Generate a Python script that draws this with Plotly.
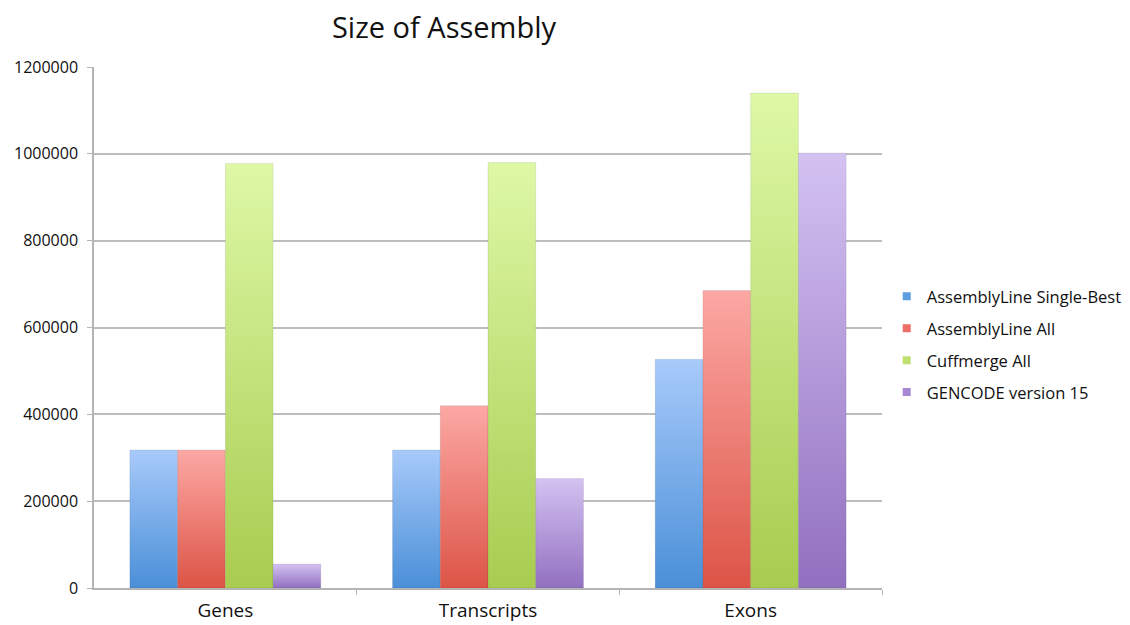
import plotly.graph_objects as go

# Assembly sizes per feature type
categories = ["Genes", "Transcripts", "Exons"]
series_names = ["AssemblyLine Single-Best", "AssemblyLine All", "Cuffmerge All", "GENCODE version 15"]
single_best = [318000, 318000, 527000]
assemblyline_all = [318000, 420000, 685000]
cuffmerge_all = [978000, 980000, 1140000]
gencode_v15 = [55000, 252000, 1002000]
y_ticks = [0, 200000, 400000, 600000, 800000, 1000000, 1200000]

series_values = [single_best, assemblyline_all, cuffmerge_all, gencode_v15]
# (bottom colour, top colour) of each series' vertical gradient
gradients = [
    ("#4a8fd8", "#a8cafa"),
    ("#dc5446", "#fca8a4"),
    ("#a8cc50", "#def8a6"),
    ("#9270c0", "#d4c2f2"),
]
legend_colors = ["#5e9ce2", "#ec6e66", "#bee070", "#a888d4"]

group_frac = 0.727
n_series = len(series_values)
bar_w = group_frac / n_series

fig = go.Figure()

# Each bar is a filled polygon so it can carry its own vertical gradient
for j, (name, vals) in enumerate(zip(series_names, series_values)):
    bottom, top = gradients[j]
    for i, v in enumerate(vals):
        center = i + (j - (n_series - 1) / 2) * bar_w
        x0, x1 = center - bar_w / 2, center + bar_w / 2
        fig.add_trace(go.Scatter(
            x=[x0, x1, x1, x0, x0],
            y=[0, 0, v, v, 0],
            mode="lines",
            fill="toself",
            line=dict(width=0.8, color="rgba(0,0,0,0.10)"),
            fillgradient=dict(type="vertical", colorscale=[[0, bottom], [1, top]]),
            showlegend=False,
            hoverinfo="text",
            text=f"{name}<br>{categories[i]}: {v}",
        ))

# Legend entries: small square swatches
for j, name in enumerate(series_names):
    fig.add_trace(go.Scatter(
        x=[None], y=[None], name=name,
        mode="markers",
        marker=dict(symbol="square", size=8, color=legend_colors[j], line=dict(width=0)),
        legendgroup=f"g{j}",
    ))

W, H = 1130, 625
left, right, top_m, bottom_m = 94, 248, 67, 37

fig.update_layout(
    width=W, height=H,
    margin=dict(l=left, r=right, t=top_m, b=bottom_m, autoexpand=False),
    paper_bgcolor="white",
    plot_bgcolor="white",
    font=dict(family="Open Sans, sans-serif", color="#1a1a1a"),
    title=dict(
        text="Size of Assembly",
        x=444 / W, xanchor="center",
        y=1 - 28 / H, yanchor="middle",
        font=dict(size=29, color="#111111"),
    ),
    showlegend=True,
    legend=dict(
        x=1.006, xanchor="left",
        y=(H - bottom_m - 279) / (H - top_m - bottom_m), yanchor="top",
        font=dict(size=16.5, color="#111111"),
        tracegroupgap=7.5,
        bgcolor="rgba(0,0,0,0)",
    ),
    xaxis=dict(
        range=[-0.5, 2.5],
        tickvals=[0, 1, 2],
        ticktext=categories,
        ticks="",
        tickfont=dict(size=19, color="#111111"),
        ticklabelstandoff=4,
        automargin=False,
        showgrid=False,
        zeroline=False,
        showline=True,
        linecolor="#b4b4b4",
        linewidth=1.5,
        minor=dict(tickvals=[0.5, 1.5, 2.5], ticks="outside", ticklen=5,
                   tickcolor="#b4b4b4", tickwidth=1, showgrid=False),
        fixedrange=True,
    ),
    yaxis=dict(
        range=[0, 1200000],
        tickvals=y_ticks,
        tickformat="d",
        ticks="outside",
        ticklen=5,
        tickcolor="#b4b4b4",
        tickwidth=1,
        tickfont=dict(size=16, color="#111111"),
        ticklabelstandoff=6,
        automargin=False,
        showgrid=True,
        gridcolor="#bdbdbd",
        gridwidth=1.5,
        zeroline=False,
        showline=True,
        linecolor="#b4b4b4",
        linewidth=1.5,
        fixedrange=True,
    ),
)

fig.write_html("out.html")
